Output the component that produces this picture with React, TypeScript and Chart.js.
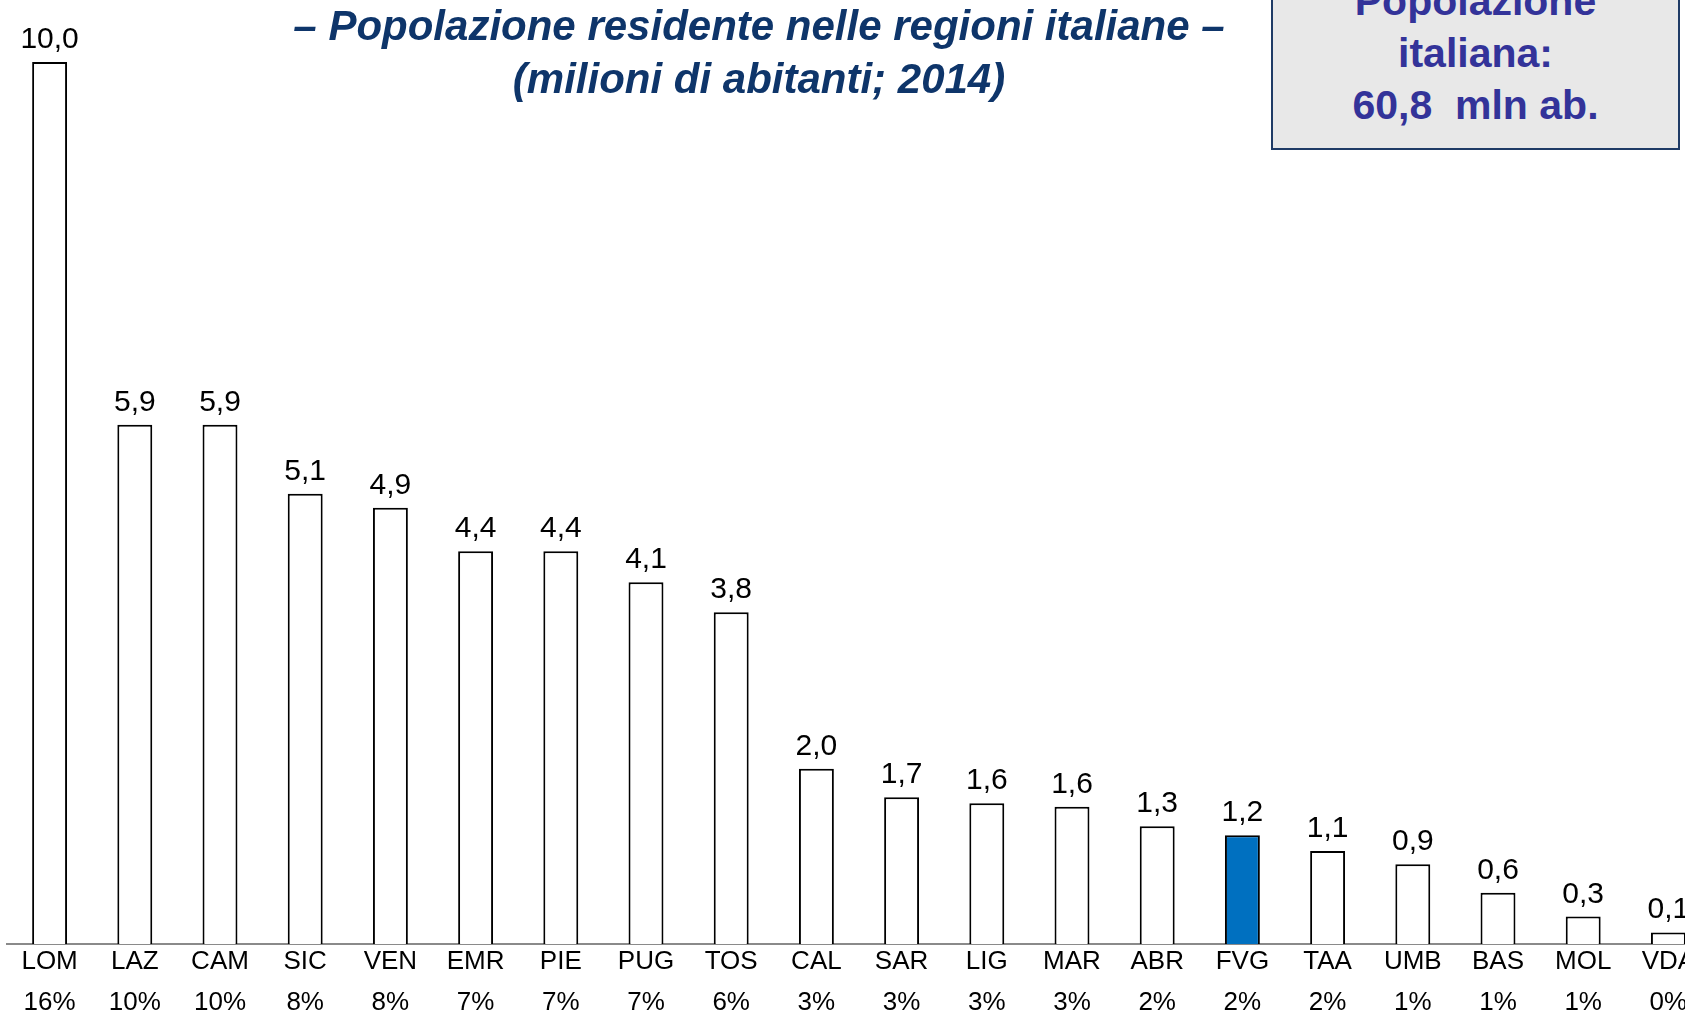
import React, { useEffect, useRef } from "react";
import { Chart, registerables } from "chart.js";

Chart.register(...registerables);

// ---- Data ----
const regions = ["LOM", "LAZ", "CAM", "SIC", "VEN", "EMR", "PIE", "PUG", "TOS", "CAL", "SAR", "LIG", "MAR", "ABR", "FVG", "TAA", "UMB", "BAS", "MOL", "VDA"];
const population = [9.97, 5.87, 5.87, 5.09, 4.93, 4.44, 4.44, 4.09, 3.75, 1.98, 1.66, 1.59, 1.55, 1.33, 1.23, 1.05, 0.9, 0.58, 0.31, 0.13];
const shares = [16, 10, 10, 8, 8, 7, 7, 7, 6, 3, 3, 3, 3, 2, 2, 2, 1, 1, 1, 0];
const highlighted = "FVG";
const titleLines = ["– Popolazione residente nelle regioni italiane –", "(milioni di abitanti; 2014)"];
const boxLines = ["Popolazione", "italiana:", "60,8  mln ab."];

const FONT = 'Arial, "Liberation Sans", Helvetica, sans-serif';

const fmt = (v: number) => v.toFixed(1).replace(".", ",");

const valueLabels = {
  id: "valueLabels",
  afterDatasetsDraw(chart: any) {
    const ctx = chart.ctx;
    const meta = chart.getDatasetMeta(0);
    ctx.save();
    ctx.font = `30px ${FONT}`;
    ctx.fillStyle = "#000000";
    ctx.textAlign = "center";
    ctx.textBaseline = "alphabetic";
    meta.data.forEach((bar: any, i: number) => {
      ctx.fillText(fmt(population[i]), bar.x, bar.y - 14);
    });
    ctx.restore();
  },
};

export default function App() {
  const canvasRef = useRef<HTMLCanvasElement | null>(null);

  useEffect(() => {
    const canvas = canvasRef.current;
    if (!canvas) return;
    const chart = new Chart(canvas, {
      type: "bar",
      data: {
        labels: regions.map((r, i) => [r, `${shares[i]}%`]),
        datasets: [
          {
            data: population,
            backgroundColor: regions.map((r) => (r === highlighted ? "#0070C0" : "#FFFFFF")),
            borderColor: "#000000",
            borderWidth: 2,
            barPercentage: 0.41,
            categoryPercentage: 1,
          },
        ],
      },
      options: {
        responsive: false,
        animation: false,
        devicePixelRatio: 1,
        layout: { padding: { left: 7, right: 0, top: 15, bottom: 0 } },
        plugins: {
          legend: { display: false },
          tooltip: { enabled: false },
          title: { display: false },
        },
        scales: {
          x: {
            grid: { display: false, drawTicks: false },
            border: { display: true, color: "#8a8a8a", width: 2 },
            ticks: {
              color: "#000000",
              font: { family: FONT, size: 26, lineHeight: "41.5px" },
              padding: -3,
              maxRotation: 0,
              autoSkip: false,
            },
          },
          y: { display: false, min: 0, max: 10.5 },
        },
      },
      plugins: [valueLabels],
    });
    return () => chart.destroy();
  }, []);

  return (
    <div style={{ position: "fixed", left: 0, top: 0, width: 1685, height: 1012, overflow: "hidden", background: "#ffffff" }}>
      <canvas ref={canvasRef} width={1711} height={1021} style={{ position: "absolute", left: 0, top: 0, width: 1711, height: 1021 }} />
      <div
        style={{
          position: "absolute",
          left: 259,
          top: -1,
          width: 1000,
          textAlign: "center",
          fontFamily: FONT,
          fontWeight: "bold",
          fontStyle: "italic",
          fontSize: 42,
          lineHeight: "53px",
          color: "#0e356a",
        }}
      >
        {titleLines.map((t) => (
          <div key={t}>{t}</div>
        ))}
      </div>
      <div
        style={{
          position: "absolute",
          left: 1271,
          top: -68,
          width: 409,
          boxSizing: "border-box",
          border: "2px solid #1f3b66",
          background: "#e8e8e8",
          paddingTop: 41,
          paddingBottom: 17,
          textAlign: "center",
          fontFamily: FONT,
          fontWeight: "bold",
          fontSize: 41,
          lineHeight: "52px",
          color: "#333399",
          whiteSpace: "pre",
        }}
      >
        {boxLines.map((t) => (
          <div key={t}>{t}</div>
        ))}
      </div>
    </div>
  );
}
